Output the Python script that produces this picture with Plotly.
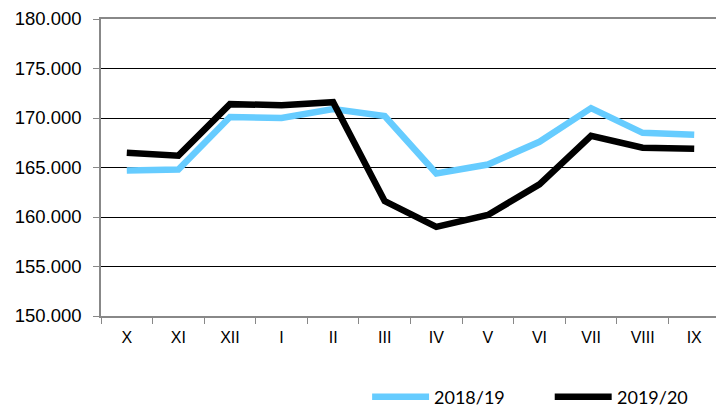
import plotly.graph_objects as go

months = ["X", "XI", "XII", "I", "II", "III", "IV", "V", "VI", "VII", "VIII", "IX"]
s2018_19 = [164.7, 164.8, 170.1, 170.0, 170.9, 170.2, 164.4, 165.3, 167.6, 171.0, 168.5, 168.3]
s2019_20 = [166.5, 166.2, 171.4, 171.3, 171.6, 161.6, 159.0, 160.2, 163.3, 168.2, 167.0, 166.9]
series_names = ["2018/19", "2019/20"]
colors = ["#66CCFF", "#000000"]

fig = go.Figure()
for name, vals, c in zip(series_names, [s2018_19, s2019_20], colors):
    fig.add_trace(go.Scatter(x=months, y=vals, mode="lines", name=name,
                             line=dict(color=c, width=6.5), showlegend=False))

# custom legend (long line symbols like the reference)
leg_items = [(0.438, series_names[0], colors[0]), (0.733, series_names[1], colors[1])]
for x0, name, c in leg_items:
    fig.add_shape(type="line", xref="paper", yref="paper",
                  x0=x0, x1=x0 + 0.092, y0=-0.272, y1=-0.272,
                  line=dict(color=c, width=6.5))
    fig.add_annotation(xref="paper", yref="paper", x=x0 + 0.0975, y=-0.272,
                       text=name, showarrow=False, xanchor="left", yanchor="middle",
                       font=dict(family="Lato", size=18, color="#000"))

# page body has an 8px margin, so the figure is shrunk/offset accordingly
fig.update_layout(
    width=716, height=399,
    margin=dict(l=93, r=4, t=11, b=91),
    paper_bgcolor="white", plot_bgcolor="white",
    font=dict(family="Liberation Sans, Arial", color="#000"),
)
fig.update_xaxes(
    range=[-0.5, 11.5], automargin=False,
    tickson="boundaries", ticks="outside", ticklen=6, tickcolor="#888",
    showline=True, linecolor="#888", linewidth=1.5, mirror=True,
    showgrid=False, tickfont=dict(size=16), ticklabelstandoff=6,
)
fig.update_yaxes(
    range=[150, 180], dtick=5, tickformat=".3f", automargin=False,
    ticks="outside", ticklen=6, tickcolor="#888",
    showline=True, linecolor="#888", linewidth=1.5, mirror=True,
    showgrid=True, gridcolor="#000", gridwidth=1,
    tickfont=dict(size=18.5), ticklabelstandoff=8,
)
fig.write_html("out.html")
